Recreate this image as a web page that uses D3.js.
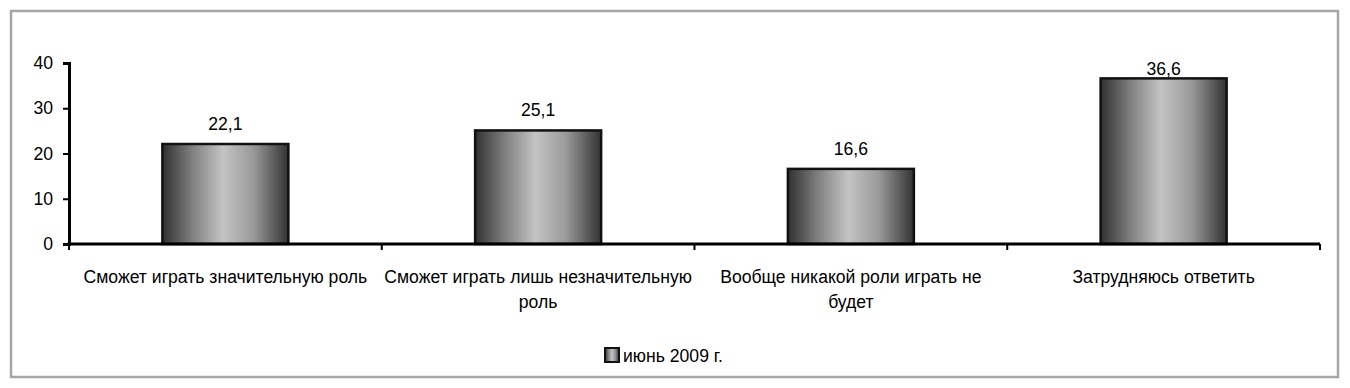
<!DOCTYPE html>
<html>
<head>
<meta charset="utf-8">
<script src="https://cdn.jsdelivr.net/npm/d3@7"></script>
<style>
  html, body { margin: 0; padding: 0; background: #fff; }
  svg { display: block; }
  text { font-family: "Liberation Sans Narrow", "Arial Narrow", "Liberation Sans", sans-serif; fill: #000; }
</style>
</head>
<body>
<svg id="chart" width="1350" height="388"></svg>
<script>
const categories = [
  "Сможет играть значительную роль",
  "Сможет играть лишь незначительную роль",
  "Вообще никакой роли играть не будет",
  "Затрудняюсь ответить"
];
const values = [22.1, 25.1, 16.6, 36.6];
const valueLabels = ["22,1", "25,1", "16,6", "36,6"];
const yTicks = [0, 10, 20, 30, 40];
const seriesName = "июнь 2009 г.";

const svg = d3.select("#chart");
const FS = 17.6;

// outer frame
svg.append("rect")
  .attr("x", 11).attr("y", 11).attr("width", 1327).attr("height", 366)
  .attr("fill", "#fff").attr("stroke", "#a6a6a6").attr("stroke-width", 2.5);

const plotLeft = 69, plotRight = 1320, plotTop = 63, plotBottom = 244;

const x = d3.scaleBand().domain(categories).range([plotLeft, plotRight]).paddingInner(0).paddingOuter(0);
const y = d3.scaleLinear().domain([0, 40]).range([plotBottom, plotTop]);

// gradient
const defs = svg.append("defs");
const grad = defs.append("linearGradient").attr("id", "barGrad")
  .attr("x1", "0%").attr("x2", "100%").attr("y1", "0%").attr("y2", "0%");
grad.append("stop").attr("offset", "0%").attr("stop-color", "#303030");
grad.append("stop").attr("offset", "22%").attr("stop-color", "#7a7a7a");
grad.append("stop").attr("offset", "48%").attr("stop-color", "#c4c4c4");
grad.append("stop").attr("offset", "72%").attr("stop-color", "#9a9a9a");
grad.append("stop").attr("offset", "100%").attr("stop-color", "#333333");

const barW = 126;

// bars
svg.append("g").selectAll("rect").data(values).join("rect")
  .attr("x", (d, i) => x(categories[i]) + x.bandwidth() / 2 - barW / 2)
  .attr("y", d => y(d))
  .attr("width", barW)
  .attr("height", d => y(0) - y(d))
  .attr("fill", "url(#barGrad)")
  .attr("stroke", "#111").attr("stroke-width", 2.5);

// value labels
svg.append("g").selectAll("text").data(values).join("text")
  .attr("x", (d, i) => x(categories[i]) + x.bandwidth() / 2)
  .attr("y", d => Math.max(y(d) - 14, plotTop + 12))
  .attr("text-anchor", "middle")
  .attr("font-size", FS)
  .text((d, i) => valueLabels[i]);

// y axis
const yAxis = d3.axisLeft(y).tickValues(yTicks).tickSize(6).tickPadding(10).tickFormat(d3.format("d"));
const gy = svg.append("g").attr("transform", `translate(${plotLeft},0)`).call(yAxis);
gy.select(".domain").attr("stroke", "#000").attr("stroke-width", 3);
gy.selectAll(".tick line").attr("stroke", "#000").attr("stroke-width", 2);
gy.selectAll(".tick text").attr("font-size", FS).attr("font-family", "Liberation Sans Narrow, Arial Narrow, sans-serif");

// x axis line
svg.append("line")
  .attr("x1", plotLeft - 1.5).attr("x2", plotRight)
  .attr("y1", y(0)).attr("y2", y(0))
  .attr("stroke", "#000").attr("stroke-width", 3);

// category boundary ticks
const boundaries = categories.map(c => x(c)).concat([plotRight]);
svg.append("g").selectAll("line").data(boundaries).join("line")
  .attr("x1", d => d).attr("x2", d => d)
  .attr("y1", y(0)).attr("y2", y(0) + 6)
  .attr("stroke", "#000").attr("stroke-width", 2);

// category labels with wrapping
const maxW = 310;
const lbl = svg.append("g");
categories.forEach((c, i) => {
  const cx = x(c) + x.bandwidth() / 2;
  const t = lbl.append("text").attr("x", cx).attr("y", 283)
    .attr("text-anchor", "middle").attr("font-size", FS);
  const words = c.split(" ");
  let line = [];
  let tspan = t.append("tspan").attr("x", cx).attr("dy", 0);
  words.forEach(w => {
    line.push(w);
    tspan.text(line.join(" "));
    if (tspan.node().getComputedTextLength() > maxW && line.length > 1) {
      line.pop();
      tspan.text(line.join(" "));
      line = [w];
      tspan = t.append("tspan").attr("x", cx).attr("dy", 25).text(w);
    }
  });
});

// legend
const lg = svg.append("g");
lg.append("rect").attr("x", 605).attr("y", 348).attr("width", 14).attr("height", 14)
  .attr("fill", "url(#barGrad)").attr("stroke", "#111").attr("stroke-width", 2);
lg.append("text").attr("x", 623).attr("y", 362).attr("font-size", FS).text(seriesName);
</script>
</body>
</html>
